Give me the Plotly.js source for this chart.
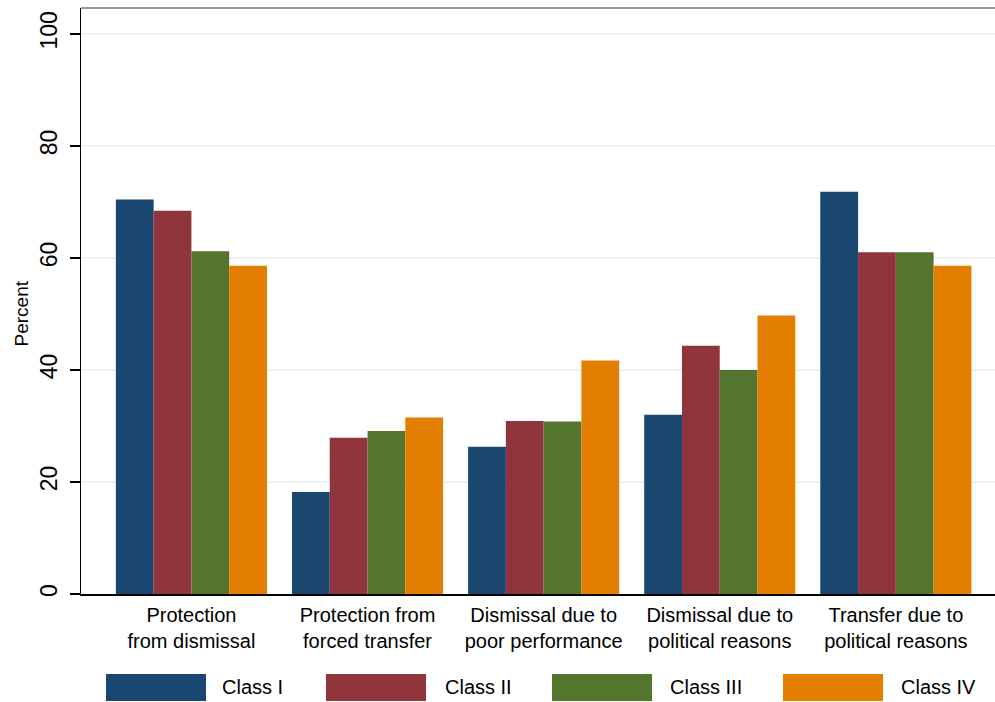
<!DOCTYPE html>
<html>
<head>
<meta charset="utf-8">
<script src="https://cdn.plot.ly/plotly-3.0.1.min.js"></script>
<style>
  html, body { margin: 0; padding: 0; background: #ffffff; }
  #chart { width: 995px; height: 702px; }
</style>
</head>
<body>
<div id="chart"></div>
<script>
// ---- Data ----
const categories = [
  "Protection<br>from dismissal",
  "Protection from<br>forced transfer",
  "Dismissal due to<br>poor performance",
  "Dismissal due to<br>political reasons",
  "Transfer due to<br>political reasons"
];
const seriesNames = ["Class I", "Class II", "Class III", "Class IV"];
const classI   = [70.4, 18.2, 26.3, 32.0, 71.8];
const classII  = [68.4, 27.9, 30.9, 44.3, 61.0];
const classIII = [61.2, 29.1, 30.8, 40.0, 61.0];
const classIV  = [58.6, 31.5, 41.7, 49.7, 58.6];
const yTicks = [0, 20, 40, 60, 80, 100];
const yTitle = "Percent";

// ---- Style ----
const colors = ["#1a476f", "#90353b", "#55752f", "#e37e00"];
const FONT = "Liberation Sans, Arial, Helvetica, sans-serif";
const seriesValues = [classI, classII, classIII, classIV];

const traces = seriesValues.map((vals, i) => ({
  type: "bar",
  name: seriesNames[i],
  x: categories,
  y: vals,
  marker: { color: colors[i], line: { width: 0 } },
  showlegend: false,
  hoverinfo: "x+y+name"
}));

const plotL = 81, plotW = 914, plotB = 594, plotH = 586;
const px = x => (x - plotL) / plotW;
const py = y => (plotB - y) / plotH;
const legBoxX = [106, 326, 552, 783];
const legTxtX = [220, 443, 668, 899];

const shapes = [
  { type: "line", xref: "paper", yref: "paper", x0: 0, x1: 1, y0: 1, y1: 1,
    line: { color: "#9a9a9a", width: 2 } }
];
const annotations = [
  {
    xref: "paper", yref: "paper",
    x: px(20.5), y: py(314),
    xanchor: "center", yanchor: "middle",
    text: yTitle, textangle: -90, showarrow: false,
    font: { family: FONT, size: 19, color: "#000000" }
  }
];
seriesNames.forEach((n, i) => {
  shapes.push({
    type: "rect", xref: "paper", yref: "paper",
    x0: px(legBoxX[i]), x1: px(legBoxX[i] + 100),
    y0: py(674), y1: py(701),
    fillcolor: colors[i], line: { width: 0 }
  });
  annotations.push({
    xref: "paper", yref: "paper",
    x: px(legTxtX[i]), y: py(687.5),
    xanchor: "left", yanchor: "middle",
    text: n, showarrow: false,
    font: { family: FONT, size: 20, color: "#000000" }
  });
});

const layout = {
  width: 995,
  height: 702,
  margin: { l: 81, r: 0, t: 8, b: 108 },
  paper_bgcolor: "#ffffff",
  plot_bgcolor: "#ffffff",
  barmode: "group",
  bargap: 0.142,
  bargroupgap: 0,
  font: { family: FONT, color: "#000000" },
  xaxis: {
    type: "category",
    range: [-0.627, 4.563],
    showline: true,
    linecolor: "#000000",
    linewidth: 1.5,
    ticks: "",
    showgrid: false,
    zeroline: false,
    ticklabelstandoff: 2,
    tickfont: { family: FONT, size: 20, color: "#000000" },
    automargin: false
  },
  yaxis: {
    range: [0, 104.6],
    tickvals: yTicks,
    ticktext: yTicks.map(String),
    ticks: "outside",
    ticklen: 10,
    tickwidth: 1.5,
    tickcolor: "#000000",
    showline: true,
    linecolor: "#000000",
    linewidth: 1.5,
    showgrid: true,
    gridcolor: "#eaf2f3",
    gridwidth: 2,
    zeroline: false,
    tickangle: -90,
    ticklabelstandoff: 3,
    tickfont: { family: FONT, size: 23, color: "#000000" },
    automargin: false
  },
  shapes: shapes,
  annotations: annotations
};

Plotly.newPlot("chart", traces, layout, { displayModeBar: false, staticPlot: true });
</script>
</body>
</html>
